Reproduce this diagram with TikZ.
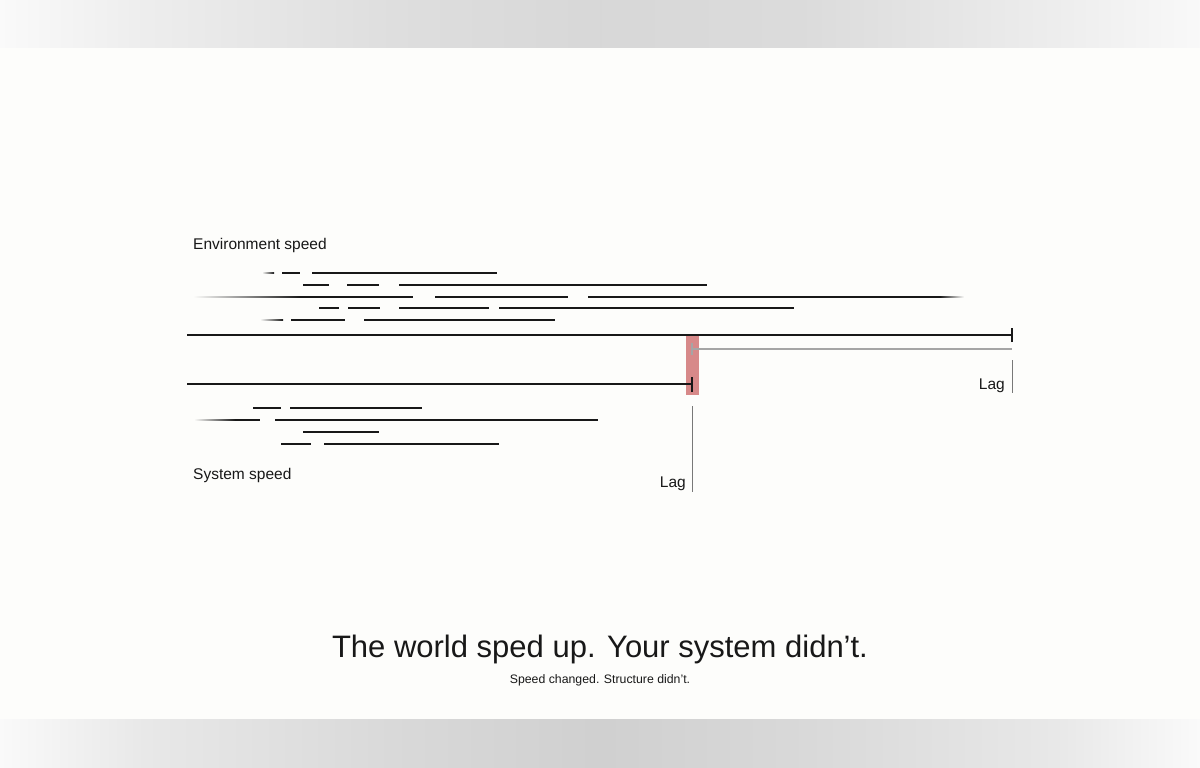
\documentclass[tikz,border=0pt]{standalone}
\usepackage{fontspec}
\setmainfont{Liberation Sans}
\definecolor{bg}{RGB}{253,253,251}
\definecolor{ink}{RGB}{24,24,24}
\definecolor{lagred}{RGB}{215,137,137}
\definecolor{laggray}{RGB}{165,165,165}
\definecolor{thingray}{RGB}{120,120,120}
\pgfdeclarehorizontalshading{topband}{100bp}{
  rgb(0bp)=(0.98,0.98,0.98);
  rgb(25bp)=(0.98,0.98,0.98);
  rgb(31bp)=(0.93,0.93,0.93);
  rgb(41.5bp)=(0.87,0.87,0.87);
  rgb(50bp)=(0.845,0.845,0.845);
  rgb(58.5bp)=(0.86,0.86,0.86);
  rgb(69bp)=(0.93,0.93,0.93);
  rgb(75bp)=(0.975,0.975,0.975);
  rgb(100bp)=(0.975,0.975,0.975)}
\pgfdeclarehorizontalshading{botband}{100bp}{
  rgb(0bp)=(0.98,0.98,0.98);
  rgb(25bp)=(0.98,0.98,0.98);
  rgb(31bp)=(0.91,0.91,0.91);
  rgb(41.5bp)=(0.85,0.85,0.85);
  rgb(50bp)=(0.815,0.815,0.815);
  rgb(58.5bp)=(0.85,0.85,0.85);
  rgb(69bp)=(0.91,0.91,0.91);
  rgb(75bp)=(0.98,0.98,0.98);
  rgb(100bp)=(0.98,0.98,0.98)}
\tikzset{
  seg/.style={draw=ink, line width=2pt},
  mainline/.style={draw=ink, line width=2.6pt},
  endtick/.style={draw=ink, line width=2pt},
  grayline/.style={draw=laggray, line width=1.7pt},
  lagline/.style={draw=thingray, line width=0.9pt},
  lbl/.style={font=\fontsize{15.5}{18}\selectfont, text=ink, inner sep=0pt},
  titlefont/.style={font=\fontsize{31}{36}\selectfont, text=ink, inner sep=0pt},
  subfont/.style={font=\fontsize{12.3}{14}\selectfont, text=ink, inner sep=0pt}
}
\newcommand{\fadein}[3]{\shade[left color=bg, right color=ink] (#1,#3-0.9) rectangle (#2,#3+0.9);}
\newcommand{\fadeout}[3]{\shade[left color=ink, right color=bg] (#1,#3-0.9) rectangle (#2,#3+0.9);}
\begin{document}
\begin{tikzpicture}[x=1pt,y=-1pt]
\useasboundingbox (0,0) rectangle (1200,768);
% background
\fill[bg] (0,0) rectangle (1200,768);
\shade[shading=topband] (0,0) rectangle (1200,48);
\shade[shading=botband] (0,719) rectangle (1200,768);

% labels
\node[lbl, anchor=base west] (envlbl) at (193,249) {Environment speed};
\node[lbl, anchor=base west] (syslbl) at (193,479) {System speed};

% environment rows
\fadein{262}{274}{273}
\draw[seg] (282,273) -- (300,273);
\draw[seg] (312,273) -- (497,273);

\draw[seg] (303,285) -- (329,285);
\draw[seg] (347,285) -- (379,285);
\draw[seg] (399,285) -- (707,285);

\fadein{193}{300}{297}
\draw[seg] (300,297) -- (413,297);
\draw[seg] (435,297) -- (568,297);
\draw[seg] (588,297) -- (940,297);
\fadeout{940}{964}{297}

\draw[seg] (319,308) -- (339,308);
\draw[seg] (348,308) -- (380,308);
\draw[seg] (399,308) -- (489,308);
\draw[seg] (499,308) -- (794,308);

\fadein{260}{283}{320}
\draw[seg] (291,320) -- (345,320);
\draw[seg] (364,320) -- (555,320);

% lag highlight
\fill[lagred] (686,336) rectangle (699,395);

% main lines
\coordinate (envstart) at (187,335);
\coordinate (envend) at (1012,335);
\coordinate (sysstart) at (187,384);
\coordinate (sysend) at (692,384);
\coordinate (gapstart) at (692,349);
\coordinate (gapend) at (1012,349);
\draw[mainline] (envstart) -- (envend);
\draw[endtick] ([yshift=-7pt]envend) -- ([yshift=7pt]envend);
\draw[grayline] (gapstart) -- (gapend);
\draw[draw=laggray, line width=1.3pt] ([yshift=-6pt]gapstart) -- ([yshift=6pt]gapstart);
\draw[mainline] (sysstart) -- (sysend);
\draw[endtick] ([yshift=-7.5pt]sysend) -- ([yshift=7.5pt]sysend);

% system rows
\draw[seg] (253,408) -- (281,408);
\draw[seg] (290,408) -- (422,408);

\fadein{194}{235}{420}
\draw[seg] (235,420) -- (260,420);
\draw[seg] (275,420) -- (598,420);

\draw[seg] (303,432) -- (379,432);

\draw[seg] (281,444) -- (311,444);
\draw[seg] (324,444) -- (499,444);

% lag markers
\node[lbl, anchor=base east] (lagright) at (1005,389) {Lag};
\coordinate (lagrtop) at (1012,360);
\coordinate (lagrbot) at (1012,393);
\draw[lagline] (lagrtop) -- (lagrbot);

\node[lbl, anchor=base east] (lagbottom) at (686,487) {Lag};
\coordinate (lagbtop) at (692,406);
\coordinate (lagbbot) at (692,492);
\draw[lagline] (lagbtop) -- (lagbbot);

% titles
\node[titlefont, anchor=base] (title) at (600,657) {The world sped up. Your system didn’t.};
\node[subfont, anchor=base] (subtitle) at (600,683.5) {Speed changed. Structure didn’t.};
\end{tikzpicture}
\end{document}
